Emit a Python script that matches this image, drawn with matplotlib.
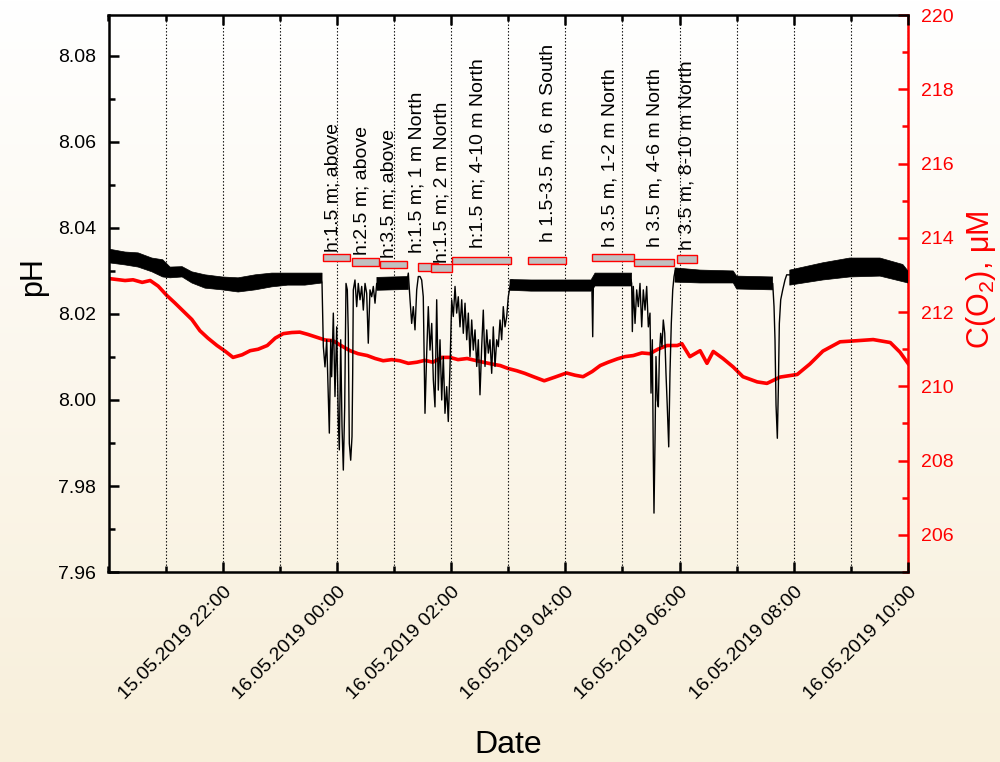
import numpy as np
import pandas as pd
import matplotlib
matplotlib.use("Agg")
import matplotlib.pyplot as plt
import matplotlib.dates as mdates
from matplotlib.patches import Rectangle
from matplotlib.ticker import MultipleLocator, FormatStrFormatter

plt.rcParams['font.family'] = ['Liberation Sans', 'DejaVu Sans']
plt.rcParams['mathtext.default'] = 'regular'

# время в часах от 15.05.2019 20:00
T0 = pd.Timestamp('2019-05-15 20:00')
label_hours = [2, 4, 6, 8, 10, 12, 14]   # подписанные деления (22:00 ... 10:00)

# pH: линия (спокойные участки по центру + всплески)
ph_t = [0.0, 0.52, 0.95, 1.29, 1.69, 2.27, 2.86, 3.44, 3.72,
        3.739, 3.762, 3.791, 3.821, 3.849, 3.867, 3.891, 3.908, 3.937, 3.966,
        3.996, 4.024, 4.042, 4.066, 4.089, 4.112, 4.136, 4.159, 4.182, 4.199,
        4.217, 4.241, 4.264, 4.276, 4.287, 4.316, 4.346, 4.374, 4.404, 4.434,
        4.462, 4.492, 4.521, 4.549, 4.579, 4.609, 4.637, 4.667, 4.696, 4.754,
        4.812, 4.900, 4.987, 5.075, 5.162, 5.222, 5.250, 5.280, 5.309, 5.337,
        5.367, 5.397, 5.425, 5.455, 5.484, 5.512, 5.542, 5.572, 5.600, 5.630,
        5.660, 5.688, 5.717, 5.747, 5.775, 5.805, 5.835, 5.863, 5.892, 5.922,
        5.950, 5.980, 6.010, 6.038, 6.068, 6.097, 6.125, 6.155, 6.185, 6.213,
        6.243, 6.273, 6.301, 6.330, 6.360, 6.388, 6.418, 6.448, 6.476, 6.505,
        6.535, 6.563, 6.593, 6.623, 6.651, 6.680, 6.710, 6.738, 6.768, 6.798,
        6.826, 6.856, 6.885, 6.913, 6.943, 6.973, 7.001, 7.031, 7.060,
        7.4, 8.2, 8.45, 8.465, 8.479, 8.49, 8.52, 8.8, 9.15,
        9.161, 9.173, 9.190, 9.220, 9.249, 9.278, 9.307, 9.337, 9.365, 9.395,
        9.424, 9.453, 9.482, 9.500, 9.523, 9.540, 9.552, 9.570, 9.587, 9.610,
        9.628, 9.646, 9.669, 9.692, 9.715, 9.740, 9.762, 9.785, 9.810, 9.832,
        9.855, 9.880, 9.903, 9.925,
        10.36, 10.94, 11.3, 11.62,
        11.631, 11.654, 11.671, 11.689, 11.712, 11.729, 11.747, 11.771, 11.806,
        11.846, 11.876,
        12.2, 12.51, 12.98, 13.51, 13.91, 14.0]
ph_v = [8.0335, 8.0326, 8.0306, 8.0298, 8.0276, 8.0268, 8.0279, 8.0281, 8.0283,
        8.0271, 8.0124, 8.0077, 8.0140, 8.0008, 7.9923, 8.0140, 8.0054, 8.0202, 8.0008,
        8.0170, 7.9953, 7.9884, 8.0140, 7.9938, 7.9837, 7.9984, 8.0271, 8.0256, 8.0155,
        7.9899, 7.9860, 7.9915, 8.0062, 8.0256, 8.0279, 8.0217, 8.0271, 8.0233, 8.0264,
        8.0209, 8.0271, 8.0248, 8.0132, 8.0256, 8.0240, 8.0264, 8.0225, 8.0271, 8.0260,
        8.0279, 8.0264, 8.0283, 8.0267, 8.0283, 8.0271, 8.0295, 8.0233, 8.0178, 8.0217,
        8.0163, 8.0256, 8.0287, 8.0287, 8.0279, 8.0240, 7.9969, 8.0109, 8.0217, 8.0116,
        8.0178, 8.0047, 7.9984, 8.0233, 8.0023, 8.0140, 8.0000, 8.0101, 7.9969, 8.0031,
        7.9950, 8.0078, 8.0233, 8.0194, 8.0264, 8.0202, 8.0240, 8.0170, 8.0233, 8.0155,
        8.0225, 8.0140, 8.0202, 8.0101, 8.0186, 8.0116, 8.0163, 8.0078, 8.0140, 8.0012,
        8.0124, 8.0209, 8.0078, 8.0163, 8.0109, 8.0140, 8.0062, 8.0170, 8.0078, 8.0140,
        8.0124, 8.0186, 8.0140, 8.0217, 8.0170, 8.0194, 8.0240, 8.0264, 8.0279,
        8.0266, 8.0266, 8.0266, 8.0256, 8.0147, 8.0260, 8.0280, 8.0280, 8.0280,
        8.0271, 8.0159, 8.0264, 8.0178, 8.0256, 8.0217, 8.0271, 8.0170, 8.0256, 8.0209,
        8.0264, 8.0170, 8.0202, 8.0016, 8.0140, 7.9868, 7.9737, 7.9907, 8.0101, 8.0000,
        7.9984, 8.0101, 8.0155, 8.0124, 8.0186, 8.0155, 8.0062, 7.9984, 7.9891, 8.0062,
        8.0178, 8.0256, 8.0287, 8.0302,
        8.0287, 8.0286, 8.0275, 8.0271,
        8.0271, 8.0217, 8.0140, 7.9988, 7.9911, 8.0023, 8.0178, 8.0233, 8.0256,
        8.0279, 8.0291,
        8.0290, 8.0299, 8.0308, 8.0309, 8.0295, 8.0288]

# pH: полоса шума на спокойных участках (None = разрыв)
band_t = [0.0, 0.29, 0.52, 0.76, 0.95, 1.08, 1.29, 1.46, 1.69, 1.99, 2.27, 2.57,
          2.86, 3.14, 3.44, 3.74, None,
          4.70, 5.25, None,
          7.03, 7.4, 7.8, 8.2, 8.45, 8.52, 8.8, 9.16, None,
          9.92, 10.36, 10.94, 11.0, 11.63, None,
          11.93, 12.51, 12.98, 13.51, 13.91, 14.0]
band_lo = [8.0319, 8.0314, 8.0309, 8.0298, 8.0286, 8.0284, 8.0286, 8.0272, 8.0260,
           8.0256, 8.0251, 8.0256, 8.0263, 8.0267, 8.0267, 8.0272, None,
           8.0255, 8.0257, None,
           8.0255, 8.0253, 8.0253, 8.0253, 8.0253, 8.0265, 8.0265, 8.0265, None,
           8.0274, 8.0272, 8.0272, 8.0258, 8.0256, None,
           8.0267, 8.0279, 8.0286, 8.0288, 8.0275, 8.0272]
band_hi = [8.0351, 8.0344, 8.0342, 8.0330, 8.0326, 8.0309, 8.0310, 8.0298, 8.0291,
           8.0286, 8.0284, 8.0291, 8.0295, 8.0295, 8.0295, 8.0295, None,
           8.0285, 8.0287, None,
           8.0280, 8.0279, 8.0279, 8.0279, 8.0279, 8.0295, 8.0295, 8.0295, None,
           8.0307, 8.0302, 8.0300, 8.0288, 8.0286, None,
           8.0302, 8.0319, 8.0330, 8.0330, 8.0315, 8.0300]

# C(O2), мкМ
o2_t = [0.026, 0.29, 0.43, 0.59, 0.73, 0.87, 1.02, 1.16, 1.30, 1.46, 1.60, 1.74,
        1.90, 2.04, 2.18, 2.34, 2.48, 2.62, 2.78, 2.92, 3.06, 3.21, 3.35, 3.49,
        3.65, 3.79, 3.93, 4.07, 4.23, 4.37, 4.53, 4.67, 4.81, 4.96, 5.10, 5.25,
        5.40, 5.54, 5.68, 5.84, 5.98, 6.12, 6.28, 6.42, 6.56, 6.72, 6.86, 7.00,
        7.15, 7.29, 7.44, 7.63, 7.82, 8.02, 8.17, 8.31, 8.47, 8.61, 8.75, 8.91,
        9.04, 9.19, 9.34, 9.48, 9.62, 9.78, 9.96, 10.04, 10.18, 10.36, 10.48, 10.59,
        10.76, 10.94, 11.11, 11.36, 11.53, 11.76, 12.06, 12.28, 12.51, 12.81, 13.11,
        13.39, 13.69, 13.86, 14.0]
o2_v = [212.90, 212.85, 212.87, 212.80, 212.85, 212.70, 212.45, 212.25, 212.04, 211.80,
        211.50, 211.30, 211.10, 210.95, 210.78, 210.85, 210.96, 211.00, 211.10, 211.30,
        211.42, 211.45, 211.46, 211.40, 211.32, 211.25, 211.23, 211.10, 210.96, 210.88,
        210.83, 210.75, 210.69, 210.72, 210.69, 210.62, 210.65, 210.70, 210.65, 210.78,
        210.78, 210.72, 210.75, 210.70, 210.65, 210.60, 210.56, 210.48, 210.42, 210.35,
        210.26, 210.15, 210.25, 210.36, 210.30, 210.26, 210.40, 210.56, 210.65, 210.74,
        210.80, 210.83, 210.90, 210.88, 211.00, 211.10, 211.10, 211.15, 210.80, 210.96,
        210.62, 210.94, 210.75, 210.52, 210.26, 210.12, 210.08, 210.25, 210.32, 210.60,
        210.95, 211.20, 211.23, 211.26, 211.18, 210.92, 210.62]

# отметки положения (часы от 20:00, pH)
box_start = [3.75, 4.26, 4.75, 5.42, 5.65, 6.02, 7.35, 8.47, 9.20, 9.96]
box_end = [4.23, 4.74, 5.23, 5.77, 6.02, 7.05, 8.01, 9.20, 9.90, 10.31]
box_mid = [8.0332, 8.0321, 8.0315, 8.0309, 8.0307, 8.0325, 8.0325, 8.0331, 8.0319, 8.0328]
lab_text = ["h:1.5 m; above", "h:2.5 m; above", "h:3.5 m; above",
            "h:1.5 m; 1 m North", "h:1.5 m; 2 m North", "h:1.5 m; 4-10 m North",
            "h 1.5-3.5 m, 6 m South", "h 3.5 m, 1-2 m North",
            "h 3.5 m, 4-6 m North", "h 3.5 m, 8-10 m North"]
lab_t = [3.93, 4.44, 4.91, 5.40, 5.84, 6.47, 7.70, 8.78, 9.57, 10.13]
lab_ph = [8.0344, 8.0337, 8.0330, 8.0342, 8.0319, 8.0353, 8.0367, 8.0356, 8.0356, 8.0349]


def fl(v):
    return np.array([np.nan if x is None else x for x in v], dtype=float)


def tnum(h):
    return mdates.date2num(T0) + fl(h) / 24.0


fig = plt.figure(figsize=(10, 7.62), dpi=100)

# фон с градиентом
bg = fig.add_axes([0, 0, 1, 1], zorder=-10)
top = np.array([1.0, 1.0, 1.0])
bot = np.array([248, 239, 218]) / 255
g = np.linspace(0, 1, 256)[:, None, None]
bg.imshow(top * (1 - g) + bot * g, aspect='auto', extent=(0, 1, 0, 1))
bg.axis('off')

ax = fig.add_axes([0.1085, 0.2493, 0.7995, 0.7310])
ax2 = ax.twinx()
ax.set_zorder(ax2.get_zorder() + 1)
ax.patch.set_visible(False)
ax2.patch.set_visible(False)

red = '#ff0000'
ax2.plot(tnum(o2_t), o2_v, color=red, lw=2.6, solid_joinstyle='round')

ax.fill_between(tnum(band_t), fl(band_lo), fl(band_hi), color='k', lw=0.5)
ax.plot(tnum(ph_t), ph_v, color='k', lw=1.0)

for s, e, m in zip(box_start, box_end, box_mid):
    x0 = tnum([s])[0]
    ax.add_patch(Rectangle((x0, m - 0.00085), (e - s) / 24.0, 0.0017,
                           facecolor='#c0c0c0', edgecolor=red, lw=1.0, zorder=4))
for txt, t, p in zip(lab_text, lab_t, lab_ph):
    ax.text(tnum([t])[0], p, txt, rotation=90, ha='center', va='bottom',
            fontsize=14, zorder=5)

ax.set_xlim(tnum([0.0])[0], tnum([14.0])[0])
ax.set_ylim(7.96, 8.0895)
ax2.set_ylim(205, 220)

ax.set_xticks(tnum(label_hours))
ax.xaxis.set_minor_locator(mdates.HourLocator())
ax.xaxis.set_major_formatter(mdates.DateFormatter('%d.%m.%Y %H:%M'))
ax.yaxis.set_major_locator(MultipleLocator(0.02))
ax.yaxis.set_minor_locator(MultipleLocator(0.01))
ax.yaxis.set_major_formatter(FormatStrFormatter('%.2f'))
ax2.yaxis.set_major_locator(MultipleLocator(2))
ax2.yaxis.set_minor_locator(MultipleLocator(1))

ax.grid(axis='x', which='both', ls=(0, (1.2, 1.8)), color='k', lw=0.8)
ax.set_axisbelow(True)

ax.tick_params(axis='both', which='both', direction='in', top=True, right=False,
               width=1.8, labelsize=14)
ax.tick_params(which='major', length=7)
ax.tick_params(which='minor', length=4)
ax.tick_params(axis='y', pad=9)
ax.tick_params(axis='x', pad=8)
ax2.tick_params(axis='y', which='both', direction='in', colors=red, width=1.8,
                labelsize=14, pad=9)
ax2.tick_params(which='major', length=7)
ax2.tick_params(which='minor', length=4)

for lbl in ax.get_xticklabels():
    lbl.set_rotation(45)
    lbl.set_ha('right')
    lbl.set_rotation_mode('anchor')

for sp in ('left', 'bottom', 'top'):
    ax.spines[sp].set_linewidth(1.8)
ax.spines['right'].set_visible(False)
for sp in ('left', 'bottom', 'top'):
    ax2.spines[sp].set_visible(False)
ax2.spines['right'].set_color(red)
ax2.spines['right'].set_linewidth(1.8)

fig.text(0.033, 1 - 277 / 762, 'pH', rotation=90, ha='center', va='center', fontsize=22)
fig.text(0.508, 1 - 745 / 762, 'Date', ha='center', va='center', fontsize=23)
fig.text(0.981, 1 - 280 / 762, r'C(O$_2$), μM', rotation=90, ha='center', va='center',
         fontsize=22, color=red)

fig.savefig('out.png', dpi=100)
